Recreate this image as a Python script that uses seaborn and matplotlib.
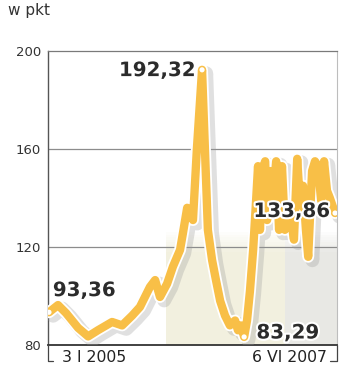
import matplotlib
matplotlib.use("Agg")
import matplotlib.pyplot as plt
import matplotlib.patheffects as pe
from matplotlib.lines import Line2D
import seaborn as sns
import pandas as pd

# ---- data ----
dates = [
    "2005-01-03", "2005-01-31", "2005-02-25", "2005-04-03", "2005-05-04",
    "2005-06-03", "2005-07-17", "2005-08-17", "2005-09-17", "2005-10-11",
    "2005-11-11", "2005-11-27", "2005-12-12", "2006-01-03", "2006-01-21",
    "2006-02-12", "2006-02-21", "2006-03-06", "2006-03-24", "2006-04-05",
    "2006-04-21", "2006-04-30", "2006-05-09", "2006-05-22", "2006-06-03",
    "2006-06-16", "2006-07-01", "2006-07-16", "2006-08-01", "2006-08-10",
    "2006-08-19", "2006-08-29", "2006-09-07", "2006-09-16", "2006-09-26",
    "2006-10-05", "2006-10-11", "2006-10-17", "2006-10-23", "2006-11-02",
    "2006-11-08", "2006-11-17", "2006-11-26", "2006-12-06", "2006-12-15",
    "2006-12-24", "2007-01-02", "2007-01-12", "2007-01-21", "2007-01-30",
    "2007-02-09", "2007-02-18", "2007-02-27", "2007-03-08", "2007-03-15",
    "2007-03-27", "2007-04-05", "2007-04-14", "2007-04-24", "2007-05-03",
    "2007-05-12", "2007-05-21", "2007-06-06",
]
values = [
    93.36, 96.3, 93.0, 87.0, 83.5,
    86.0, 89.4, 88.0, 92.0, 95.5,
    103.7, 106.5, 99.6, 105.0, 112.0,
    118.8, 125.7, 136.0, 131.0, 160.0,
    192.32, 159.6, 127.0, 114.7, 106.5,
    98.0, 92.0, 88.0, 90.0, 86.0,
    88.0, 83.29, 90.0, 102.0, 119.0,
    139.0, 153.0, 127.0, 151.0, 155.0,
    131.0, 151.0, 139.0, 155.0, 127.0,
    153.0, 127.0, 130.0, 131.0, 123.0,
    156.0, 137.0, 145.0, 127.0, 116.0,
    151.0, 155.0, 153.0, 139.0, 155.0,
    143.0, 140.0, 133.86,
]
marked = [
    ("2005-01-03", 93.36, "93,36"),
    ("2006-04-21", 192.32, "192,32"),
    ("2006-08-29", 83.29, "83,29"),
    ("2007-06-06", 133.86, "133,86"),
]
y_ticks = [80, 120, 160, 200]
start_label = "3 I 2005"
end_label = "6 VI 2007"
unit_label = "w pkt"
year_bands = [("2006-01-01", "2007-01-01", "#f2f0df"), ("2007-01-01", "2007-06-12", "#e8e8e4")]

df = pd.DataFrame({"date": pd.to_datetime(dates), "value": values})

sns.set_theme(style="white")
plt.rcParams["font.family"] = ["DejaVu Sans"]

W, H = 350, 385
fig = plt.figure(figsize=(W / 100, H / 100), dpi=100)
L, R, T, B = 48, 337, 51, 345
ax = fig.add_axes([L / W, 1 - B / H, (R - L) / W, (B - T) / H])

x0 = pd.Timestamp("2005-01-03") - pd.Timedelta(days=3)
x1 = pd.Timestamp("2007-06-06") + pd.Timedelta(days=6)
ax.set_xlim(x0, x1)
ax.set_ylim(80, 200)

# year bands with soft top fade
for a, b, c in year_bands:
    a = pd.Timestamp(a); b = min(pd.Timestamp(b), x1)
    ax.fill_between([a, b], 80, 118, color=c, lw=0, zorder=0)
    steps = 8
    for i in range(steps):
        lo = 118 + i * 1.0
        ax.fill_between([a, b], lo, lo + 1.0, color=c, alpha=1 - (i + 1) / (steps + 1), lw=0, zorder=0)

# grid lines
for yv in [120, 160]:
    ax.axhline(yv, color="#8c8c8c", lw=0.9, zorder=1)

line_color = "#f8bf47"
sns.lineplot(data=df, x="date", y="value", ax=ax, color=line_color, lw=6.0,
             zorder=3, solid_joinstyle="round", solid_capstyle="round")
ln = ax.lines[-1]
ln.set_path_effects([
    pe.SimpleLineShadow(offset=(3, -2.5), shadow_color="#9a9a9a", alpha=0.3, linewidth=10),
    pe.Stroke(linewidth=8.6, foreground="white"),
    pe.Normal(),
])

# marker dots
for d, v, _ in marked:
    ax.scatter([pd.Timestamp(d)], [v], s=14, color="white", edgecolor="none", zorder=5)

# value labels
lab_pos = {
    "93,36": (pd.Timestamp("2005-01-03") + pd.Timedelta(days=12), 102.2, "left"),
    "192,32": (pd.Timestamp("2006-04-21") - pd.Timedelta(days=20), 192.0, "right"),
    "83,29": (pd.Timestamp("2006-08-29") + pd.Timedelta(days=38), 84.9, "left"),
    "133,86": (pd.Timestamp("2007-06-06") - pd.Timedelta(days=15), 134.5, "right"),
}
halo = [pe.withStroke(linewidth=3, foreground="white")]
for _, _, t in marked:
    xx, yy, ha = lab_pos[t]
    ax.text(xx, yy, t, ha=ha, va="center", fontsize=14.3, fontweight="bold",
            color="#2b2b2b", zorder=6, path_effects=halo)

# axes styling
ax.set_yticks(y_ticks)
ax.set_yticklabels([str(v) for v in y_ticks])
ax.tick_params(axis="y", length=0, pad=5, labelsize=9.5, labelcolor="#333333")
ax.set_xticks([])
ax.set_xlabel("")
ax.set_ylabel("")
ax.grid(False)
ax.spines["left"].set_color("#555555"); ax.spines["left"].set_linewidth(1.0)
ax.spines["bottom"].set_color("#333333"); ax.spines["bottom"].set_linewidth(1.3)
ax.spines["top"].set_color("#7a7a7a"); ax.spines["top"].set_linewidth(0.9)
ax.spines["right"].set_color("#bdbdbd"); ax.spines["right"].set_linewidth(0.8)
ax.set_facecolor("white")

# unit label
fig.text(8 / W, 1 - 11 / H, unit_label, ha="left", va="center", fontsize=11, color="#333333")

# date labels with brackets
fig.text(62 / W, 1 - 358 / H, start_label, ha="left", va="center", fontsize=11.3, color="#222222")
fig.text(327 / W, 1 - 358 / H, end_label, ha="right", va="center", fontsize=11.3, color="#222222")
ft = fig.transFigure
fig.add_artist(Line2D([L / W, L / W, 53 / W], [1 - B / H, 1 - 361 / H, 1 - 361 / H], transform=ft, color="#444444", lw=0.9))
fig.add_artist(Line2D([330 / W, R / W, R / W], [1 - 361 / H, 1 - 361 / H, 1 - B / H], transform=ft, color="#444444", lw=0.9))

fig.savefig("out.png", dpi=100, facecolor="white")
